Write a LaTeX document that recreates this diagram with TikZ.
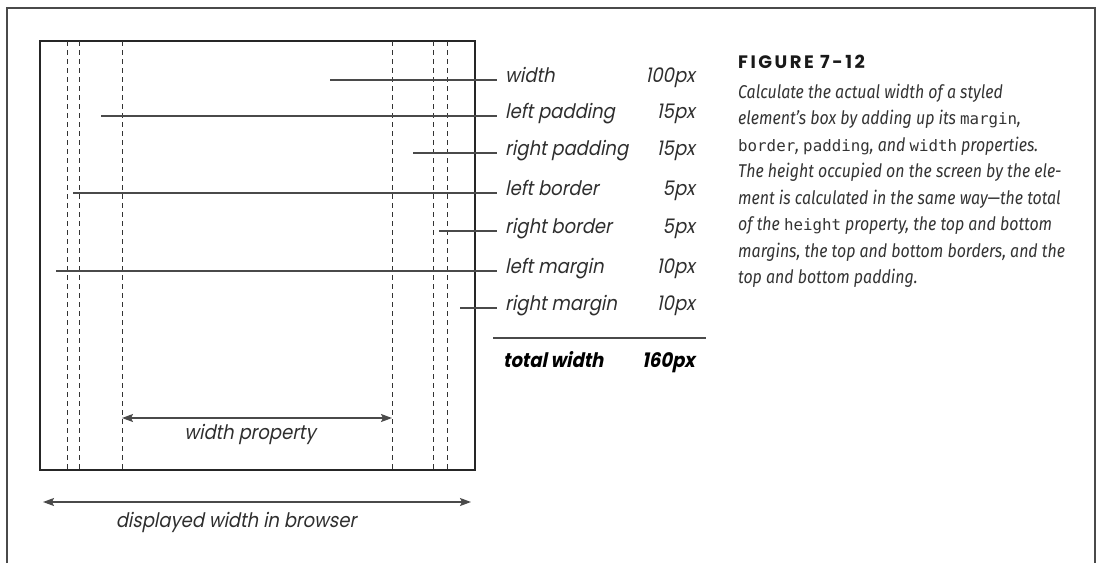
\documentclass[tikz,border=0pt]{standalone}
\usepackage{fontspec}
\usetikzlibrary{arrows.meta}
\newfontfamily\lblfont{Poppins}[FakeSlant=0.2,FakeStretch=0.9]
\newfontfamily\capfont{Fira Sans}[FakeStretch=0.86]
\newfontfamily\monofont{DejaVu Sans Mono}
\newfontfamily\headfont{Poppins}[LetterSpace=14]
\definecolor{linegray}{HTML}{4A4A4A}
\definecolor{textgray}{HTML}{2E2E2E}
\tikzset{
  frameline/.style={draw=linegray,line width=1.4pt},
  boxline/.style={draw=black!85,line width=1.4pt},
  guide/.style={draw=black!80,line width=0.9pt,dash pattern=on 5pt off 4pt},
  leader/.style={draw=linegray,line width=1.3pt},
  dimarrow/.style={draw=linegray,line width=1.4pt,{Stealth[length=11pt,width=8pt,inset=2pt]}-{Stealth[length=11pt,width=8pt,inset=2pt]}},
  lbl/.style={inner sep=0pt,anchor=mid west,text=textgray,font=\lblfont\fontsize{20}{24}\selectfont},
  num/.style={inner sep=0pt,anchor=mid east,text=textgray,font=\lblfont\fontsize{20}{24}\selectfont},
  totl/.style={inner sep=0pt,text=black,font=\lblfont\bfseries\fontsize{20}{24}\selectfont},
  dimlbl/.style={inner sep=0pt,anchor=mid,text=textgray,font=\lblfont\fontsize{20}{24}\selectfont},
}
\newcommand{\mn}[1]{{\upshape\monofont\fontsize{15.8}{26.5}\selectfont #1}}
\begin{document}
\begin{tikzpicture}[x=1pt,y=-1pt]
\useasboundingbox (0,0) rectangle (1099,563);
% outer frame (open at bottom)
\coordinate (fbl) at (7,563);
\coordinate (ftl) at (7,8);
\coordinate (ftr) at (1095,8);
\coordinate (fbr) at (1095,563);
\draw[frameline] (fbl) -- (ftl) -- (ftr) -- (fbr);
% element box
\node[boxline,minimum width=435pt,minimum height=429pt,inner sep=0pt] (box) at (257.5,255.5) {};
% dashed guides
\foreach \x [count=\i] in {67,79,122,392,433,447}{
  \coordinate (gt\i) at (\x,41);
  \coordinate (gb\i) at (\x,470);
  \draw[guide] (gt\i) -- (gb\i);
}
% rows
\foreach \y/\sx/\name/\val [count=\i] in {
  80/330/width/100px,
  116/101/left padding/15px,
  153/413/right padding/15px,
  193/73/left border/5px,
  231/439/right border/5px,
  271/56/left margin/10px,
  308/460/right margin/10px}{
  \coordinate (ls\i) at (\sx,\y);
  \coordinate (le\i) at (497,\y);
  \draw[leader] (ls\i) -- (le\i);
  \node[lbl] (lab\i) at (505,\y) {\name};
  \node[num] (val\i) at (695,\y) {\val};
}
% total
\coordinate (sepl) at (493,338);
\coordinate (sepr) at (706,338);
\draw[leader] (sepl) -- (sepr);
\node[totl,anchor=mid west] (tot) at (503,365) {total width};
\node[totl,anchor=mid east] (totv) at (695,365) {160px};
% width property arrow
\coordinate (wpa) at (122,418);
\coordinate (wpb) at (392,418);
\draw[dimarrow] (wpa) -- (wpb);
\node[dimlbl] (wplbl) at (250,437) {width property};
% displayed width arrow
\coordinate (dwa) at (43,502);
\coordinate (dwb) at (471,502);
\draw[dimarrow] (dwa) -- (dwb);
\node[dimlbl] (dwlbl) at (236,525) {displayed width in browser};
% caption
\node[inner sep=0pt,anchor=base west,text=black!90,font=\headfont\bfseries\fontsize{18}{20}\selectfont] (fig) at (738,68) {FIGURE 7-12};
\node[inner sep=0pt,anchor=north west,align=left,text=black!80,font=\capfont\itshape\fontsize{18.5}{26.5}\selectfont] (cap) at (738,83.5) {%
Calculate the actual width of a styled\\
element’s box by adding up its \mn{margin},\\
\mn{border}, \mn{padding}, and \mn{width} properties.\\
The height occupied on the screen by the ele-\\
ment is calculated in the same way—the total\\
of the \mn{height} property, the top and bottom\\
margins, the top and bottom borders, and the\\
top and bottom padding.};
\end{tikzpicture}
\end{document}
